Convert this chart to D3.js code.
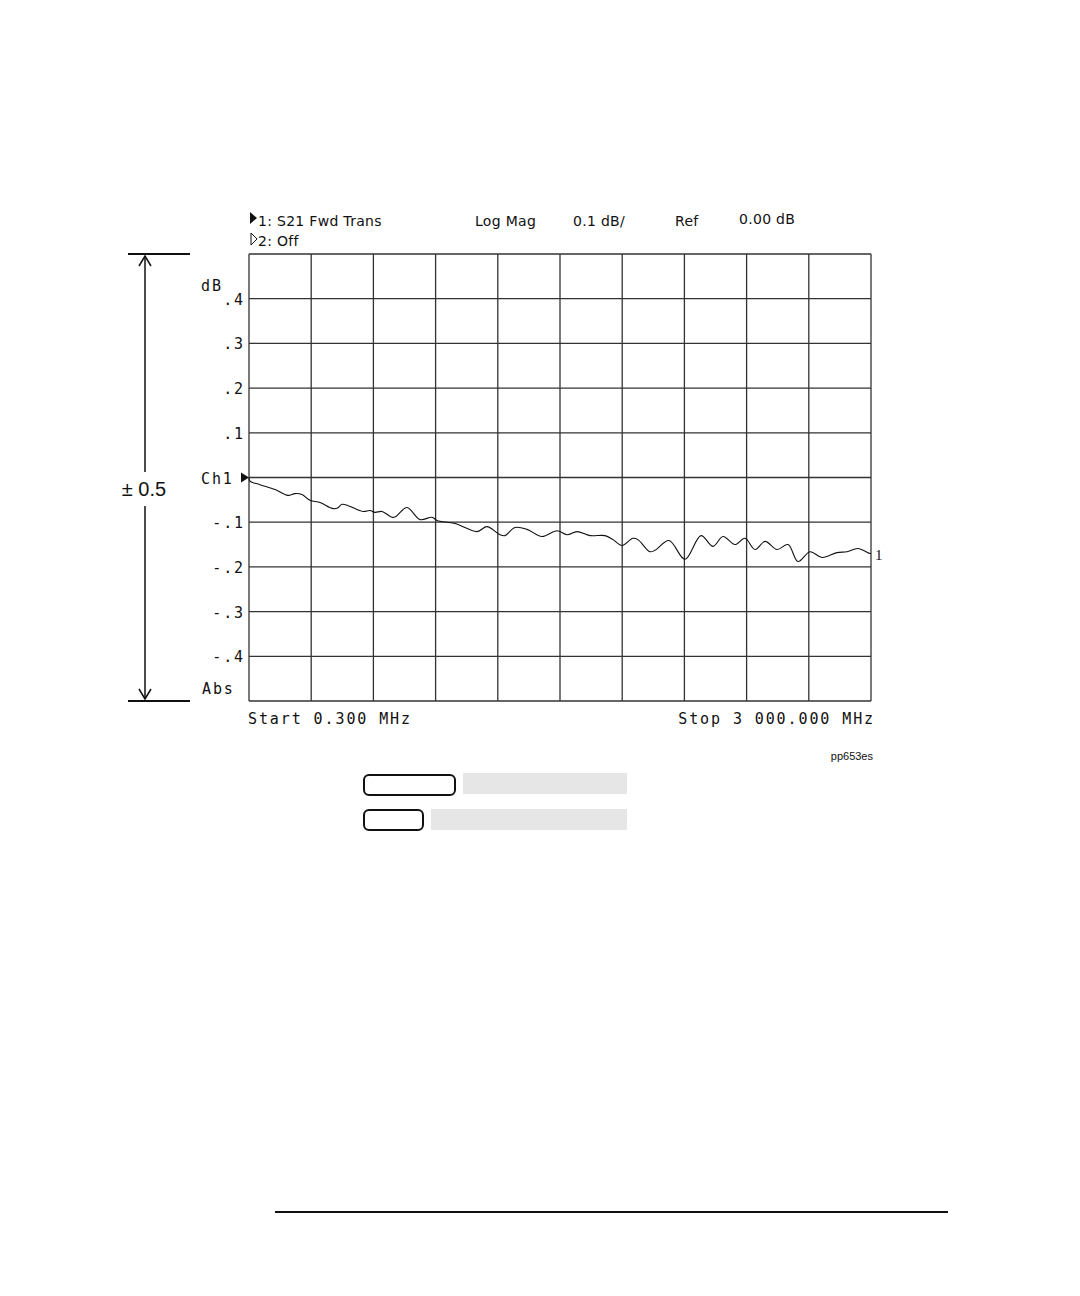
<!DOCTYPE html>
<html>
<head>
<meta charset="utf-8">
<script src="https://cdn.jsdelivr.net/npm/d3@7"></script>
<style>
  body { margin: 0; background: #fff; }
  .mono { font-family: "DejaVu Sans Mono", monospace; font-size: 15px; letter-spacing: 1.9px; fill: #111; }
  .hdr { font-family: "DejaVu Sans", sans-serif; font-size: 14px; letter-spacing: 0.3px; fill: #111; }
</style>
</head>
<body>
<div id="chart"></div>
<script>
// trace: frequency (MHz) and magnitude (dB)
var freq = [0.3, 5, 53, 126, 188, 222, 256, 294, 343, 401, 425, 449, 478, 550, 584, 608, 642,
            690, 709, 762, 825, 883, 907, 994, 1100, 1148, 1211, 1235, 1283, 1341, 1413, 1486,
            1534, 1582, 1645, 1717, 1756, 1799, 1852, 1876, 1934, 1958, 2026, 2103, 2180, 2238,
            2286, 2344, 2392, 2441, 2489, 2547, 2600, 2648, 2706, 2764, 2836, 2884, 2937, 2995, 3000];
var mag = [0, -0.008, -0.016, -0.027, -0.040, -0.036, -0.038, -0.051, -0.056, -0.069, -0.069,
           -0.060, -0.063, -0.076, -0.074, -0.078, -0.076, -0.089, -0.087, -0.067, -0.094, -0.089,
           -0.096, -0.103, -0.121, -0.110, -0.128, -0.130, -0.112, -0.116, -0.132, -0.119, -0.128,
           -0.121, -0.130, -0.130, -0.139, -0.152, -0.136, -0.139, -0.166, -0.163, -0.141, -0.183,
           -0.130, -0.154, -0.132, -0.150, -0.136, -0.161, -0.143, -0.161, -0.150, -0.188, -0.166,
           -0.179, -0.168, -0.166, -0.159, -0.170, -0.170];

var yTickValues = [0.4, 0.3, 0.2, 0.1, 0, -0.1, -0.2, -0.3, -0.4];
var yTickLabels = [".4", ".3", ".2", ".1", "Ch1", "-.1", "-.2", "-.3", "-.4"];
var startFreq = 0.3, stopFreq = 3000;

var w = 1080, h = 1296;
var svg = d3.select("#chart").append("svg")
    .attr("width", w)
    .attr("height", h);

var x = d3.scaleLinear().domain([startFreq, stopFreq]).range([249, 871]);
var y = d3.scaleLinear().domain([-0.5, 0.5]).range([701, 254]);

// grid, 10 x 10 divisions
var xGrid = d3.range(0, 11).map(function(i) { return startFreq + i * (stopFreq - startFreq) / 10; });
var yGrid = d3.range(-5, 6).map(function(i) { return i / 10; });

svg.selectAll("line.vg")
   .data(xGrid)
   .enter()
   .append("line")
   .attr("x1", function(d) { return x(d); })
   .attr("x2", function(d) { return x(d); })
   .attr("y1", y(0.5))
   .attr("y2", y(-0.5))
   .attr("stroke", "#333")
   .attr("stroke-width", 1.3);

svg.selectAll("line.hg")
   .data(yGrid)
   .enter()
   .append("line")
   .attr("x1", x(startFreq))
   .attr("x2", x(stopFreq))
   .attr("y1", function(d) { return y(d); })
   .attr("y2", function(d) { return y(d); })
   .attr("stroke", "#333")
   .attr("stroke-width", 1.3);

// trace
var pts = freq.map(function(f, i) { return [f, mag[i]]; });
var line = d3.line()
    .x(function(d) { return x(d[0]); })
    .y(function(d) { return y(d[1]); })
    .curve(d3.curveCatmullRom.alpha(0.5));

svg.append("path")
   .datum(pts)
   .attr("d", line)
   .attr("fill", "none")
   .attr("stroke", "#111")
   .attr("stroke-width", 1.1);

svg.append("text")
   .attr("x", x(stopFreq) + 4)
   .attr("y", y(mag[mag.length - 1]) + 7)
   .attr("font-family", "Liberation Serif, serif")
   .attr("font-size", 15)
   .attr("fill", "#111")
   .text("1");

// reference marker Ch1
svg.append("path")
   .attr("d", "M" + (x(startFreq) - 8) + "," + (y(0) - 5) + " L" + x(startFreq) + "," + y(0) +
              " L" + (x(startFreq) - 8) + "," + (y(0) + 5) + "Z")
   .attr("fill", "#111");

// y labels
svg.selectAll("text.yl")
   .data(yTickValues)
   .enter()
   .append("text")
   .attr("class", "mono")
   .attr("x", function(d, i) { return i == 4 ? 201 : 245; })
   .attr("y", function(d) { return y(d) + 6; })
   .attr("text-anchor", function(d, i) { return i == 4 ? "start" : "end"; })
   .text(function(d, i) { return yTickLabels[i]; });

svg.append("text").attr("class", "mono").attr("x", 201).attr("y", 291).text("dB");
svg.append("text").attr("class", "mono").attr("x", 202).attr("y", 694).text("Abs");

svg.append("text").attr("class", "mono").attr("x", 248).attr("y", 724).text("Start 0.300 MHz");
svg.append("text").attr("class", "mono").attr("x", 875).attr("y", 724)
   .attr("text-anchor", "end").text("Stop 3 000.000 MHz");

// header
svg.append("path").attr("d", "M250,212 L257,218 L250,224 Z").attr("fill", "#111");
svg.append("path").attr("d", "M251,233 L257,239 L251,245 Z").attr("fill", "none")
   .attr("stroke", "#111").attr("stroke-width", 1);
var hdr = [["1: S21 Fwd Trans", 258, 226], ["2: Off", 258, 246], ["Log Mag", 475, 226],
           ["0.1 dB/", 573, 226], ["Ref", 675, 226], ["0.00 dB", 739, 224]];
svg.selectAll("text.hd")
   .data(hdr)
   .enter()
   .append("text")
   .attr("class", "hdr")
   .attr("x", function(d) { return d[1]; })
   .attr("y", function(d) { return d[2]; })
   .text(function(d) { return d[0]; });

// +/- 0.5 bracket
svg.append("line").attr("x1", 128).attr("x2", 190).attr("y1", y(0.5)).attr("y2", y(0.5))
   .attr("stroke", "#111").attr("stroke-width", 2);
svg.append("line").attr("x1", 128).attr("x2", 190).attr("y1", y(-0.5)).attr("y2", y(-0.5))
   .attr("stroke", "#111").attr("stroke-width", 2);
svg.append("line").attr("x1", 145).attr("x2", 145).attr("y1", y(0.5) + 2).attr("y2", 472)
   .attr("stroke", "#111").attr("stroke-width", 1.5);
svg.append("line").attr("x1", 145).attr("x2", 145).attr("y1", 506).attr("y2", y(-0.5) - 2)
   .attr("stroke", "#111").attr("stroke-width", 1.5);
svg.append("path").attr("d", "M139,266 L145,256 L151,266").attr("fill", "none")
   .attr("stroke", "#111").attr("stroke-width", 1.5);
svg.append("path").attr("d", "M139,689 L145,699 L151,689").attr("fill", "none")
   .attr("stroke", "#111").attr("stroke-width", 1.5);
svg.append("text").attr("x", 144).attr("y", 496).attr("text-anchor", "middle")
   .attr("font-family", "Liberation Sans, Arial, sans-serif").attr("font-size", 20)
   .attr("fill", "#111").text("\u00b1 0.5");

svg.append("text").attr("x", 873).attr("y", 760).attr("text-anchor", "end")
   .attr("font-family", "Liberation Sans, Arial, sans-serif").attr("font-size", 11)
   .attr("fill", "#111").text("pp653es");

// softkey placeholders
svg.append("rect").attr("x", 364).attr("y", 775).attr("width", 91).attr("height", 20).attr("rx", 5)
   .attr("fill", "#fff").attr("stroke", "#111").attr("stroke-width", 2);
svg.append("rect").attr("x", 463).attr("y", 773).attr("width", 164).attr("height", 21).attr("fill", "#e6e6e6");
svg.append("rect").attr("x", 364).attr("y", 810).attr("width", 59).attr("height", 20).attr("rx", 5)
   .attr("fill", "#fff").attr("stroke", "#111").attr("stroke-width", 2);
svg.append("rect").attr("x", 431).attr("y", 809).attr("width", 196).attr("height", 21).attr("fill", "#e6e6e6");

svg.append("line").attr("x1", 275).attr("x2", 948).attr("y1", 1212).attr("y2", 1212)
   .attr("stroke", "#111").attr("stroke-width", 2);
</script>
</body>
</html>
